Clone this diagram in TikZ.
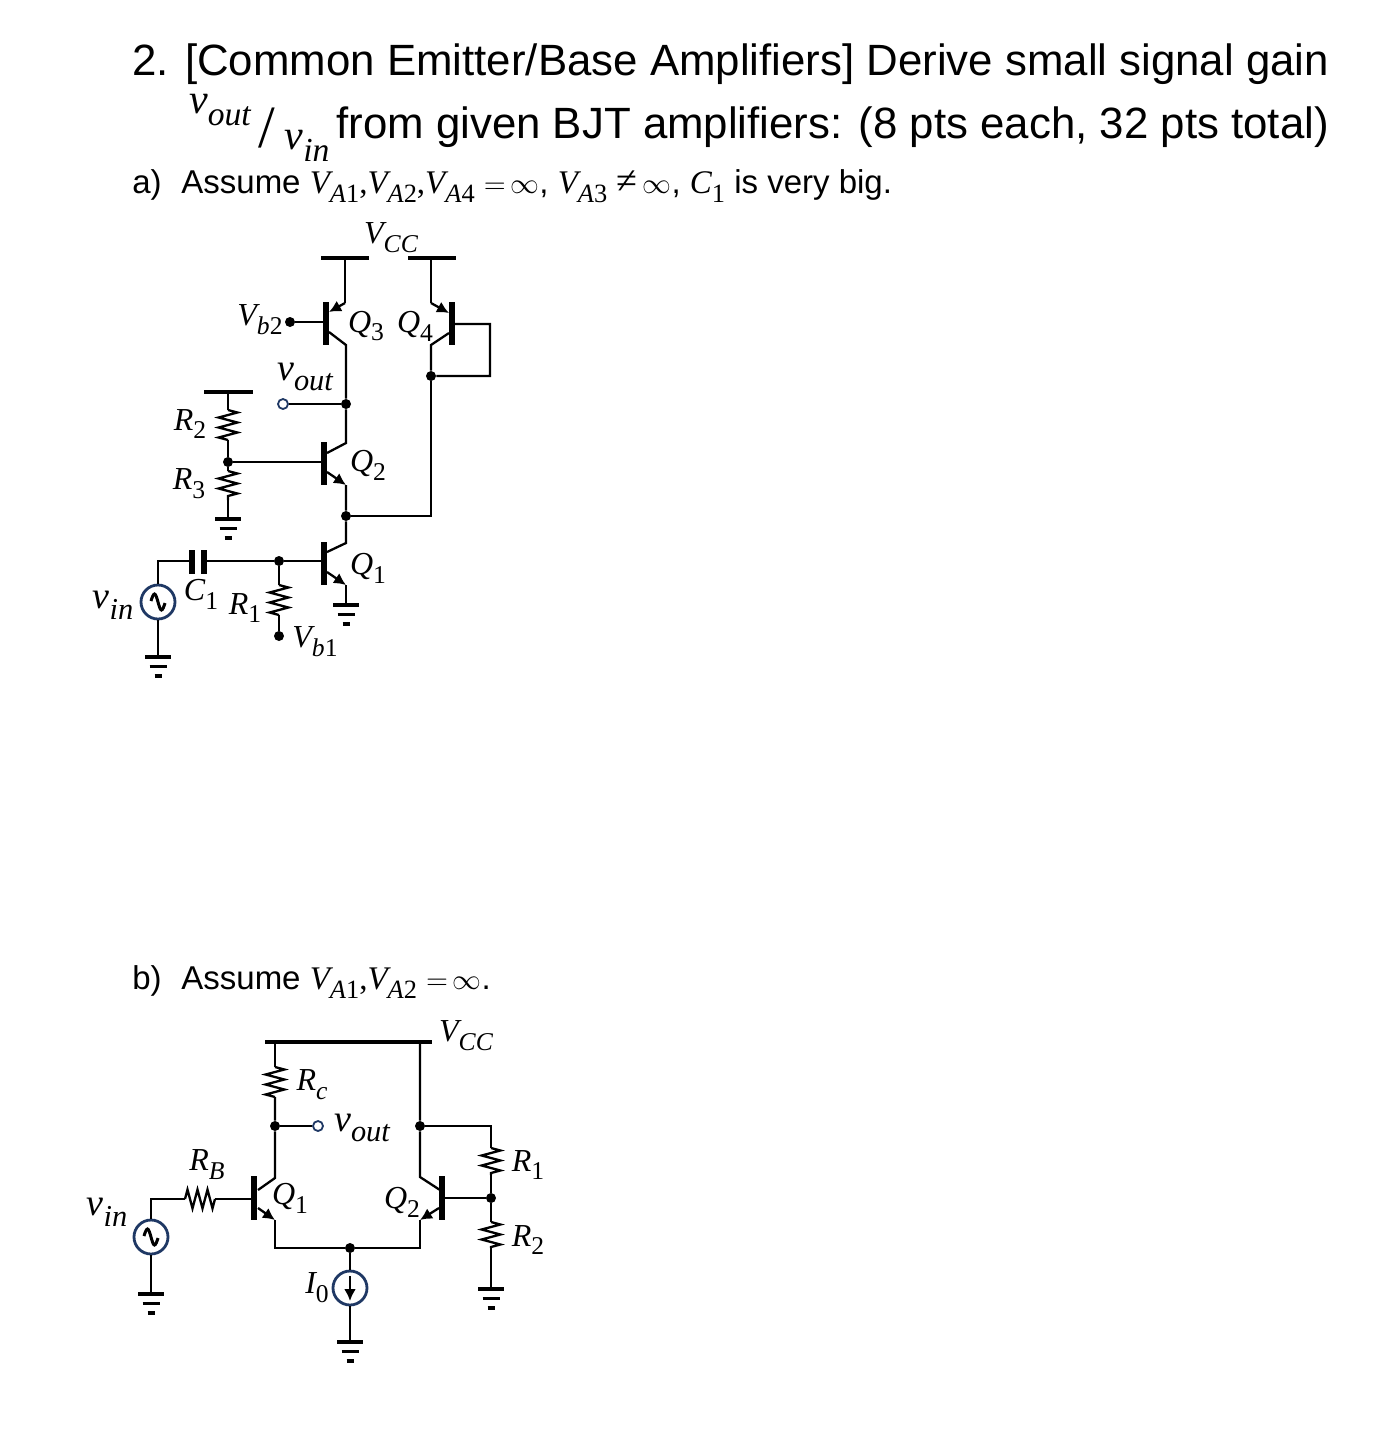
\documentclass[tikz,border=0pt]{standalone}
\usepackage[no-math]{fontspec}
\setmainfont{Liberation Sans}
\newfontfamily\lblfont{Liberation Serif}
\usetikzlibrary{arrows.meta,decorations.pathmorphing}
\definecolor{srcblue}{RGB}{31,56,100}
\newcommand{\lab}[2]{{\lblfont\itshape #1}\raisebox{-.28em}{\scalebox{.8}{\lblfont #2}}}
\newcommand{\eqinf}{{\fontsize{14}{14}\selectfont ${=}\,\infty$}}
\newcommand{\neinf}{{\fontsize{19}{19}\selectfont\lblfont ≠}\,{\fontsize{14}{14}\selectfont $\infty$}}
\tikzset{
  wire/.style     = {line width=1.15pt},
  rail/.style     = {line width=2.4pt},
  bjtbar/.style   = {line width=2.6pt},
  emitter/.style  = {wire, -{Latex[length=6pt,width=6pt]}},
  resistor/.style = {wire, decorate, decoration={zigzag, segment length=5pt, amplitude=4.7pt}},
  junction/.style = {circle, fill=black, inner sep=0pt, minimum size=5pt},
  port/.style     = {circle, draw=srcblue, fill=white, line width=.9pt, inner sep=0pt, minimum size=5pt},
  source/.style   = {circle, draw=srcblue, line width=1.4pt, inner sep=0pt, minimum size=17pt},
  title/.style    = {anchor=base west, inner sep=0pt, font=\fontsize{21.9}{22}\selectfont},
  body/.style     = {anchor=base west, inner sep=0pt, font=\fontsize{16.5}{17}\selectfont},
  lbl/.style      = {inner sep=0pt, font=\fontsize{16}{16}\selectfont},
  vlbl/.style     = {inner sep=0pt, font=\fontsize{19}{19}\selectfont},
  pics/gnd/.style = {code={
    \draw[line width=1.7pt] (-13,0) -- (13,0);
    \draw[line width=1.7pt] (-8.5,9.5) -- (8.5,9.5);
    \draw[line width=2.2pt] (-3.5,19) -- (3.5,19);
  }},
  pics/sinewave/.style = {code={
    \draw[line width=1.5pt] (-7,-1) sin (-3.5,-8) cos (0,0) sin (3.5,8) cos (7,1);
  }}
}

\begin{document}
\begin{tikzpicture}[x=0.5pt,y=-0.5pt]
    \useasboundingbox (0,0) rectangle (1384,1432);

    % question text
    \node[title] (t1) at (132,75) {2. [Common Emitter/Base Amplifiers] Derive small signal gain};
    \node[vlbl,font=\fontsize{21}{21}\selectfont] (t2a) at (220,110) {\lab{v}{\itshape out}};
    \node[vlbl,font=\fontsize{30}{30}\selectfont\lblfont] (t2b) at (267,128) {/};
    \node[vlbl,font=\fontsize{21}{21}\selectfont] (t2c) at (307,146) {\lab{v}{\itshape in}};
    \node[title] (t2) at (336,138) {from given BJT amplifiers: (8 pts each, 32 pts total)};
    \node[body] (pa) at (132,193) {a)};
    \node[body] (pa2) at (181,193) {Assume \lab{V}{\itshape A\upshape 1}{\lblfont,}\lab{V}{\itshape A\upshape 2}{\lblfont,}\lab{V}{\itshape A\upshape 4} \eqinf, \lab{V}{\itshape A\upshape 3} \neinf, \lab{C}{1} is very big.};
    \node[body] (pb) at (132,989) {b)};
    \node[body] (pb2) at (181,989) {Assume \lab{V}{\itshape A\upshape 1}{\lblfont,}\lab{V}{\itshape A\upshape 2} \eqinf.};

    % circuit a), points
    \foreach \n/\x/\y in {
      a3rail/345/258, a4rail/431/258, a3e/345/303, a3c/346/345, a4e/431/303, a4c/431/345,
      a3ebar/329/312, a3cbar/329/332, a4ebar/449/313, a4cbar/449/333, a3b/326/322, a4b/452/324,
      a4ba/490/324, a4bb/490/376,
      a2c/346/443, a2e/346/485, a2cbar/327/453, a2ebar/327/472, a2b/324/462,
      a1c/346/543, a1e/346/585, a1cbar/327/552, a1ebar/327/572, a1b/324/561,
      a1out/431/516, r2rail/228/392, r2t/228/410, r2b/228/440, r3t/228/471, r3b/228/500,
      r1t/279/585, r1b/279/615, cl/192/561, cr/204/561, vsa/158/561}
      \coordinate (\n) at (\x,\y);

    \foreach \n/\x/\y in {jout/346/404, j4/431/376, j23/228/462, j12/346/516, j1/279/561, vb1/279/636, vb2/290/322}
      \node[junction] (\n) at (\x,\y) {};
    \node[port] (oa) at (283,404) {};
    \node[source] (sa) at (158,602) {};
    \pic at (sa) {sinewave};

    \foreach \n/\x/\y in {g3/228/519, g1/346/605, gsa/158/657} {
      \coordinate (\n) at (\x,\y);
      \pic at (\n) {gnd};
    }

    % circuit a), supply rails and transistor bars
    \draw[rail] (321,258) -- (a3rail) -- (369,258);
    \draw[rail] (408,258) -- (a4rail) -- (456,258);
    \draw[rail] (204,392) -- (r2rail) -- (253,392);
    \draw[bjtbar] (326,302) -- (a3b) -- (326,345);
    \draw[bjtbar] (452,302) -- (a4b) -- (452,345);
    \draw[bjtbar] (324,442) -- (a2b) -- (324,485);
    \draw[bjtbar] (324,542) -- (a1b) -- (324,585);
    \draw[bjtbar] (192,550) -- (cl) -- (192,574);
    \draw[bjtbar] (204,550) -- (cr) -- (204,574);

    % circuit a), connectors
    \draw[wire] (a3rail) -- (a3e);
    \draw[emitter] (a3e) -- (a3ebar);
    \draw[wire] (a3cbar) -- (a3c) -- (jout) -- (a2c) -- (a2cbar);
    \draw[wire] (a4rail) -- (a4e);
    \draw[emitter] (a4e) -- (a4ebar);
    \draw[wire] (a4cbar) -- (a4c) -- (j4) -- (a4bb) -- (a4ba) -- (a4b);
    \draw[wire] (j4) -- (a1out) -- (j12);
    \draw[wire] (vb2) -- (a3b);
    \draw[wire] (oa) -- (jout);
    \draw[wire] (j23) -- (a2b);
    \draw[emitter] (a2ebar) -- (a2e);
    \draw[wire] (a2e) -- (j12) -- (a1c) -- (a1cbar);
    \draw[emitter] (a1ebar) -- (a1e);
    \draw[wire] (a1e) -- (g1);
    \draw[wire] (r2rail) -- (r2t);
    \draw[resistor] (r2t) -- (r2b);
    \draw[wire] (r2b) -- (j23) -- (r3t);
    \draw[resistor] (r3t) -- (r3b);
    \draw[wire] (r3b) -- (g3);
    \draw[wire] (sa) -- (vsa) -- (cl);
    \draw[wire] (cr) -- (j1) -- (a1b);
    \draw[wire] (j1) -- (r1t);
    \draw[resistor] (r1t) -- (r1b);
    \draw[wire] (r1b) -- (vb1);
    \draw[wire] (sa) -- (gsa);

    % circuit a), labels
    \node[lbl] (lvcca) at (391,238) {\lab{V}{\itshape CC}};
    \node[lbl] (lvb2) at (260,320) {\lab{V}{\itshape b\upshape 2}};
    \node[lbl] (lq3) at (366,326) {\lab{Q}{3}};
    \node[lbl] (lq4) at (415,326) {\lab{Q}{4}};
    \node[vlbl] (lvouta) at (305,377) {\lab{v}{\itshape out}};
    \node[lbl] (lr2) at (190,424) {\lab{R}{2}};
    \node[lbl] (lq2) at (368,465) {\lab{Q}{2}};
    \node[lbl] (lr3) at (189,484) {\lab{R}{3}};
    \node[lbl] (lq1) at (368,568) {\lab{Q}{1}};
    \node[vlbl] (lvina) at (113,605) {\lab{v}{\itshape in}};
    \node[lbl] (lc1) at (201,594) {\lab{C}{1}};
    \node[lbl] (lr1) at (245,608) {\lab{R}{1}};
    \node[lbl] (lvb1) at (315,642) {\lab{V}{\itshape b\upshape 1}};

    % circuit b), points
    \foreach \n/\x/\y in {
      brl/265/1042, brr/432/1042, rct/275/1067, rcb/275/1097, railc/275/1042, raile/420/1042,
      b1c/275/1178, b1e/275/1220, b1cbar/258/1190, b1ebar/258/1208, b1b/254/1199,
      b2c/420/1177, b2e/420/1220, b2cbar/440/1190, b2ebar/439/1208, b2b/442/1198,
      bl/275/1248, br/420/1248, topr/491/1126, rat/491/1148, rab/491/1175, rbt/491/1222, rbb/491/1248,
      rbl/185/1199, rbr/215/1199, vsb/151/1199}
      \coordinate (\n) at (\x,\y);

    \foreach \n/\x/\y in {jc/275/1126, je/420/1126, jb/491/1198, jt/350/1248}
      \node[junction] (\n) at (\x,\y) {};
    \node[port] (ob) at (318,1126) {};
    \node[source] (sb) at (151,1237) {};
    \pic at (sb) {sinewave};
    \node[source] (io) at (350,1288) {};
    \draw[line width=1.4pt,-{Latex[length=6pt,width=6pt]}] ([yshift=6pt]io.center) -- ([yshift=-6.5pt]io.center);

    \foreach \n/\x/\y in {gsb/151/1294, gio/350/1342, grb/491/1289} {
      \coordinate (\n) at (\x,\y);
      \pic at (\n) {gnd};
    }

    % circuit b), connectors
    \draw[rail] (brl) -- (brr);
    \draw[bjtbar] (254,1176) -- (b1b) -- (254,1220);
    \draw[bjtbar] (442,1176) -- (b2b) -- (442,1220);
    \draw[wire] (railc) -- (rct);
    \draw[resistor] (rct) -- (rcb);
    \draw[wire] (rcb) -- (jc) -- (b1c) -- (b1cbar);
    \draw[wire] (jc) -- (ob);
    \draw[emitter] (b1ebar) -- (b1e);
    \draw[wire] (b1e) -- (bl) -- (jt) -- (br) -- (b2e);
    \draw[emitter] (b2ebar) -- (b2e);
    \draw[wire] (raile) -- (je) -- (b2c) -- (b2cbar);
    \draw[wire] (je) -- (topr) -- (rat);
    \draw[resistor] (rat) -- (rab);
    \draw[wire] (rab) -- (jb) -- (rbt);
    \draw[resistor] (rbt) -- (rbb);
    \draw[wire] (rbb) -- (grb);
    \draw[wire] (b2b) -- (jb);
    \draw[wire] (jt) -- (io);
    \draw[wire] (io) -- (gio);
    \draw[wire] (sb) -- (vsb) -- (rbl);
    \draw[resistor] (rbl) -- (rbr);
    \draw[wire] (rbr) -- (b1b);
    \draw[wire] (sb) -- (gsb);

    % circuit b), labels
    \node[lbl] (lvccb) at (466,1036) {\lab{V}{\itshape CC}};
    \node[lbl] (lrc) at (312,1085) {\lab{R}{\itshape c}};
    \node[vlbl] (lvoutb) at (362,1128) {\lab{v}{\itshape out}};
    \node[lbl] (lrb) at (207,1165) {\lab{R}{\itshape B}};
    \node[lbl] (lqb1) at (290,1198) {\lab{Q}{1}};
    \node[lbl] (lqb2) at (402,1202) {\lab{Q}{2}};
    \node[vlbl] (lvinb) at (107,1212) {\lab{v}{\itshape in}};
    \node[lbl] (lio) at (317,1288) {\lab{I}{0}};
    \node[lbl] (lrb1) at (528,1165) {\lab{R}{1}};
    \node[lbl] (lrb2) at (528,1240) {\lab{R}{2}};
\end{tikzpicture}
\end{document}
